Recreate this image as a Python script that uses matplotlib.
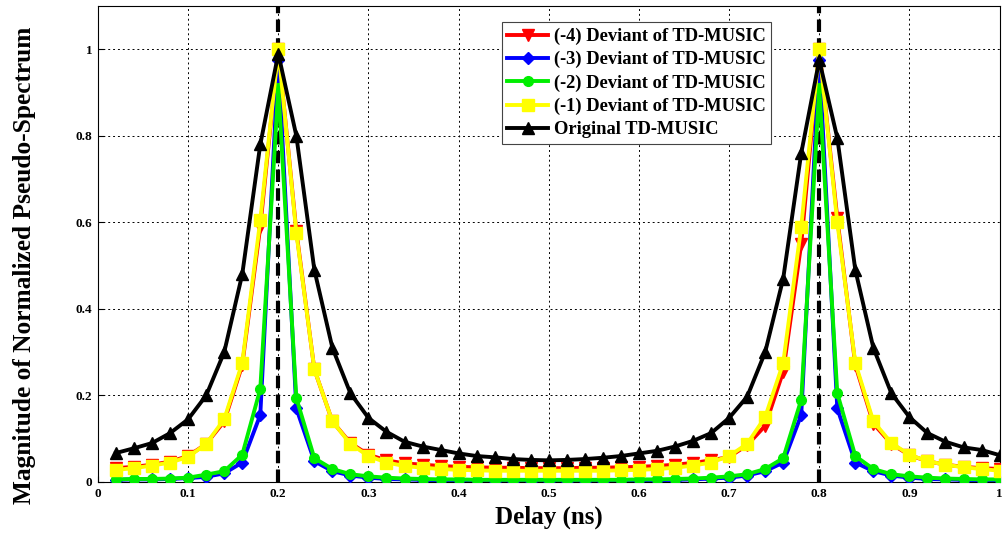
import matplotlib
matplotlib.use("Agg")
import matplotlib.pyplot as plt

delay = [0.02, 0.04, 0.06, 0.08, 0.10, 0.12, 0.14, 0.16, 0.18, 0.20,
         0.22, 0.24, 0.26, 0.28, 0.30, 0.32, 0.34, 0.36, 0.38, 0.40,
         0.42, 0.44, 0.46, 0.48, 0.50, 0.52, 0.54, 0.56, 0.58, 0.60,
         0.62, 0.64, 0.66, 0.68, 0.70, 0.72, 0.74, 0.76, 0.78, 0.80,
         0.82, 0.84, 0.86, 0.88, 0.90, 0.92, 0.94, 0.96, 0.98, 1.00]

dev4 = [0.032, 0.035, 0.040, 0.047, 0.060, 0.088, 0.140, 0.270, 0.590, 1.000,
        0.580, 0.260, 0.140, 0.090, 0.063, 0.050, 0.043, 0.040, 0.037, 0.035,
        0.034, 0.033, 0.033, 0.032, 0.032, 0.032, 0.033, 0.033, 0.034, 0.035,
        0.037, 0.040, 0.044, 0.050, 0.058, 0.085, 0.130, 0.255, 0.550, 1.000,
        0.610, 0.270, 0.135, 0.088, 0.062, 0.048, 0.040, 0.035, 0.032, 0.030]

dev3 = [0.005, 0.006, 0.006, 0.007, 0.009, 0.012, 0.020, 0.045, 0.155, 0.975,
        0.170, 0.048, 0.025, 0.015, 0.010, 0.007, 0.006, 0.005, 0.004, 0.004,
        0.004, 0.003, 0.003, 0.003, 0.003, 0.003, 0.003, 0.003, 0.004, 0.004,
        0.004, 0.005, 0.006, 0.008, 0.010, 0.015, 0.025, 0.045, 0.155, 0.975,
        0.170, 0.045, 0.025, 0.015, 0.010, 0.007, 0.006, 0.005, 0.004, 0.004]

dev2 = [0.006, 0.007, 0.007, 0.008, 0.010, 0.017, 0.025, 0.063, 0.215, 0.910,
        0.194, 0.055, 0.030, 0.018, 0.013, 0.010, 0.008, 0.007, 0.006, 0.006,
        0.005, 0.005, 0.005, 0.005, 0.005, 0.005, 0.005, 0.005, 0.005, 0.006,
        0.006, 0.007, 0.008, 0.010, 0.013, 0.018, 0.030, 0.055, 0.190, 0.910,
        0.205, 0.060, 0.030, 0.018, 0.013, 0.010, 0.008, 0.007, 0.006, 0.006]

dev1 = [0.028, 0.032, 0.038, 0.045, 0.058, 0.088, 0.145, 0.275, 0.605, 1.000,
        0.575, 0.260, 0.140, 0.088, 0.060, 0.045, 0.037, 0.033, 0.030, 0.028,
        0.027, 0.026, 0.026, 0.026, 0.026, 0.026, 0.026, 0.026, 0.027, 0.028,
        0.030, 0.033, 0.038, 0.045, 0.060, 0.088, 0.150, 0.275, 0.590, 1.000,
        0.600, 0.275, 0.140, 0.090, 0.063, 0.048, 0.040, 0.034, 0.030, 0.026]

original = [0.067, 0.078, 0.090, 0.113, 0.145, 0.200, 0.300, 0.480, 0.780, 0.990,
            0.800, 0.490, 0.310, 0.205, 0.148, 0.116, 0.093, 0.082, 0.074, 0.066,
            0.060, 0.057, 0.053, 0.051, 0.050, 0.051, 0.053, 0.056, 0.060, 0.066,
            0.072, 0.082, 0.095, 0.113, 0.148, 0.197, 0.300, 0.470, 0.760, 0.975,
            0.795, 0.490, 0.310, 0.205, 0.150, 0.113, 0.093, 0.080, 0.074, 0.062]

true_delays = [0.2, 0.8]

labels = ["(-4) Deviant of TD-MUSIC", "(-3) Deviant of TD-MUSIC",
          "(-2) Deviant of TD-MUSIC", "(-1) Deviant of TD-MUSIC",
          "Original TD-MUSIC"]
xticks = [0, 0.1, 0.2, 0.3, 0.4, 0.5, 0.6, 0.7, 0.8, 0.9, 1]
xticklabels = ["0", "0.1", "0.2", "0.3", "0.4", "0.5", "0.6", "0.7", "0.8", "0.9", "1"]
yticks = [0, 0.2, 0.4, 0.6, 0.8, 1.0]
yticklabels = ["0", "0.2", "0.4", "0.6", "0.8", "1"]

plt.rcParams['font.family'] = ['Liberation Serif', 'DejaVu Serif']
plt.rcParams['font.weight'] = 'bold'

fig = plt.figure(figsize=(10.04, 5.33), dpi=100)
ax = fig.add_axes([0.0976, 0.0957, 0.898, 0.893])

for xv in true_delays:
    ax.axvline(xv, color='black', lw=3, ls=(0, (3, 1.5)), zorder=1)

series = [dev4, dev3, dev2, dev1, original]
colors = ['#ff0000', '#0000ff', '#00ee00', '#ffff00', '#000000']
markers = ['v', 'D', 'o', 's', '^']
msizes = [8, 6, 7, 8, 9]
for ys, c, m, ms, lab in zip(series, colors, markers, msizes, labels):
    ax.plot(delay, ys, color=c, marker=m, markersize=ms, lw=2.8,
            markeredgecolor=c, label=lab, zorder=3)

ax.set_xlim(0, 1)
ax.set_ylim(0, 1.1)
ax.set_xticks(xticks)
ax.set_xticklabels(xticklabels)
ax.set_yticks(yticks)
ax.set_yticklabels(yticklabels)
ax.tick_params(direction='in', labelsize=9.5, length=4, pad=4)
for t in ax.get_xticklabels() + ax.get_yticklabels():
    t.set_fontweight('bold')
ax.grid(True, color='black', ls=(0, (2, 3)), lw=0.7)
ax.set_axisbelow(True)
for s in ax.spines.values():
    s.set_color('black')
    s.set_linewidth(0.8)

ax.set_xlabel("Delay (ns)", fontsize=18, fontweight='bold', labelpad=4)
ax.set_ylabel("Magnitude of Normalized Pseudo-Spectrum", fontsize=18.3,
              fontweight='bold', va='center')
ax.yaxis.set_label_coords(-0.081, 0.455)

leg = ax.legend(loc='upper left', bbox_to_anchor=(0.448, 0.966), borderaxespad=0,
                prop={'family': 'Liberation Serif', 'weight': 'bold', 'size': 13.3},
                fancybox=False, framealpha=1, edgecolor='#444444',
                handlelength=2.2, handletextpad=0.3, labelspacing=0.33,
                borderpad=0.3)
leg.get_frame().set_linewidth(0.8)

fig.savefig("out.png", dpi=100)
